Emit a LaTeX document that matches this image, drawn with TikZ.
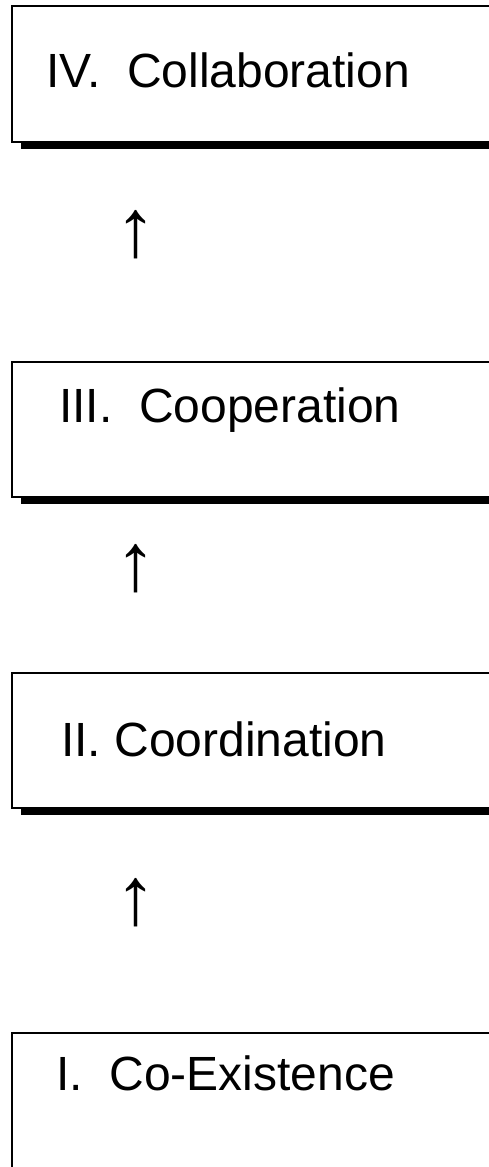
\documentclass[tikz,border=0pt]{standalone}
\usepackage{fontspec}
\setmainfont{Liberation Sans}
\begin{document}
\begin{tikzpicture}[x=1pt,y=-1pt,
  boxframe/.style={draw=black, line width=1.6pt, fill=white},
  boxshadow/.style={fill=black},
  label/.style={anchor=base west, inner sep=0pt, font=\fontsize{48}{56}\selectfont},
  uparrow/.style={anchor=center, inner sep=0pt, font=\fontsize{82}{90}\selectfont}]
\useasboundingbox (0,0) rectangle (489,1167);
\clip (0,0) rectangle (489,1167);
% Box IV
\fill[boxshadow] (21,15) rectangle (520,148.5);
\draw[boxframe] (12,6) rectangle (520,142);
\node[label] (t4) at (46,87) {IV.\ \ Collaboration};
\node[uparrow] (a3) at (136,234.5) {↑};
% Box III
\fill[boxshadow] (21,371) rectangle (520,503.5);
\draw[boxframe] (12,362) rectangle (520,497);
\node[label] (t3) at (59,422) {III.\ \ Cooperation};
\node[uparrow] (a2) at (136,568.5) {↑};
% Box II
\fill[boxshadow] (21,682) rectangle (520,814.5);
\draw[boxframe] (12,673) rectangle (520,808);
\node[label] (t2) at (61,756) {II. Coordination};
\node[uparrow] (a1) at (136,903) {↑};
% Box I
\fill[boxshadow] (21,1042) rectangle (520,1200);
\draw[boxframe] (12,1033) rectangle (520,1200);
\node[label] (t1) at (56,1090) {I.\ \ Co-Existence};
\end{tikzpicture}
\end{document}
